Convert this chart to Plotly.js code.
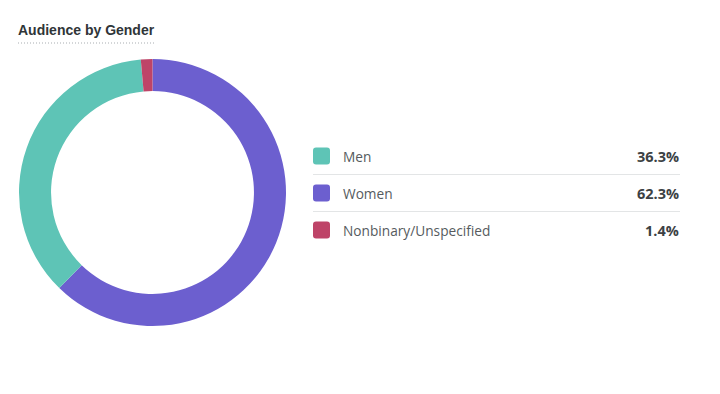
<!DOCTYPE html>
<html>
<head>
<meta charset="utf-8">
<script src="https://cdn.plot.ly/plotly-3.0.1.min.js"></script>
<style>
  html, body { margin: 0; padding: 0; background: #ffffff; }
  #chart { width: 720px; height: 394px; }
</style>
</head>
<body>
<div id="chart"></div>
<script>
// Data
const categories = ["Men", "Women", "Nonbinary/Unspecified"];
const shares = [36.3, 62.3, 1.4];
const colors = ["#5ec4b6", "#6c5fcf", "#be4468"];
// Drawing order around the ring (clockwise from 12 o'clock)
const ringOrder = [1, 0, 2];

const W = 720, H = 394;
const px = x => x / W;
const py = y => 1 - y / H;

const pieTrace = {
  type: "pie",
  labels: ringOrder.map(i => categories[i]),
  values: ringOrder.map(i => shares[i]),
  marker: { colors: ringOrder.map(i => colors[i]), line: { width: 0 } },
  hole: 0.76,
  sort: false,
  direction: "clockwise",
  rotation: 0,
  textinfo: "none",
  hoverinfo: "label+percent",
  showlegend: false,
  domain: { x: [px(19), px(286)], y: [py(326), py(59)] }
};

const shapes = [];
const annotations = [];

// Title underline (dotted)
shapes.push({
  type: "line", xref: "paper", yref: "paper",
  x0: px(18), x1: px(155), y0: py(43), y1: py(43),
  line: { color: "#a8adb1", width: 1, dash: "1px,2px" }
});

annotations.push({
  xref: "paper", yref: "paper", x: px(16), y: py(30),
  xanchor: "left", yanchor: "middle", showarrow: false,
  text: "<b>Audience by Gender</b>",
  font: { family: "Liberation Sans, Arial, sans-serif", size: 14, color: "#2f3538" }
});

// Custom legend table
const rowY = [156, 193, 230];
const sq = 17, r = 3, sx = 313;
categories.forEach((c, i) => {
  const cy = rowY[i];
  const x0 = sx, x1 = sx + sq, y0 = cy - sq / 2, y1 = cy + sq / 2;
  const path = `M ${px(x0 + r)} ${py(y0)} L ${px(x1 - r)} ${py(y0)} Q ${px(x1)} ${py(y0)} ${px(x1)} ${py(y0 + r)} ` +
               `L ${px(x1)} ${py(y1 - r)} Q ${px(x1)} ${py(y1)} ${px(x1 - r)} ${py(y1)} ` +
               `L ${px(x0 + r)} ${py(y1)} Q ${px(x0)} ${py(y1)} ${px(x0)} ${py(y1 - r)} ` +
               `L ${px(x0)} ${py(y0 + r)} Q ${px(x0)} ${py(y0)} ${px(x0 + r)} ${py(y0)} Z`;
  shapes.push({ type: "path", xref: "paper", yref: "paper", path: path,
    fillcolor: colors[i], line: { width: 0 } });
  annotations.push({
    xref: "paper", yref: "paper", x: px(341), y: py(cy),
    xanchor: "left", yanchor: "middle", showarrow: false,
    text: c,
    font: { family: "Open Sans, sans-serif", size: 13.7, color: "#565b5e" }
  });
  annotations.push({
    xref: "paper", yref: "paper", x: px(681), y: py(cy),
    xanchor: "right", yanchor: "middle", showarrow: false,
    text: "<b>" + shares[i].toFixed(1) + "%</b>",
    font: { family: "Open Sans, sans-serif", size: 14.5, color: "#3c4144" }
  });
  if (i < categories.length - 1) {
    const ly = (rowY[i] + rowY[i + 1]) / 2;
    shapes.push({ type: "line", xref: "paper", yref: "paper",
      x0: px(313), x1: px(680), y0: py(ly), y1: py(ly),
      line: { color: "#e3e5e6", width: 1 } });
  }
});

const layout = {
  width: W, height: H,
  margin: { l: 0, r: 0, t: 0, b: 0 },
  paper_bgcolor: "#ffffff",
  plot_bgcolor: "#ffffff",
  showlegend: false,
  shapes: shapes,
  annotations: annotations
};

Plotly.newPlot("chart", [pieTrace], layout, { displayModeBar: false, staticPlot: true });
</script>
</body>
</html>
